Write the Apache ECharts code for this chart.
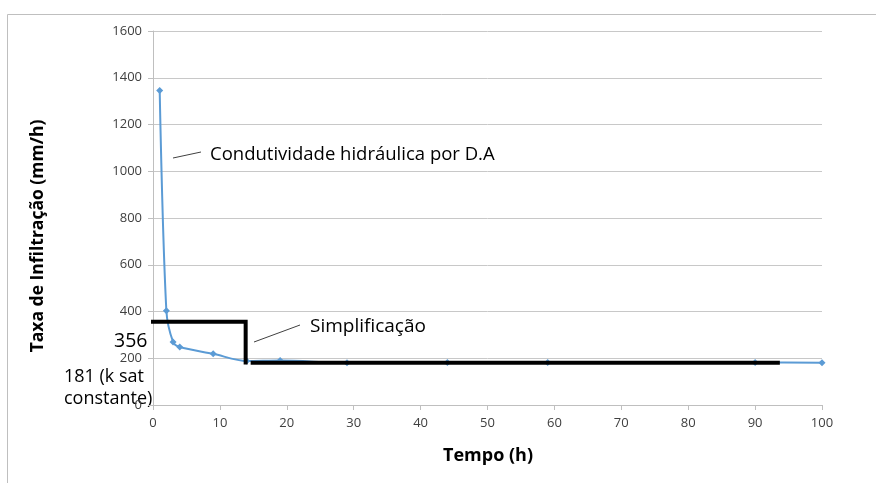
<!DOCTYPE html>
<html>
<head>
<meta charset="utf-8">
<script src="https://cdn.jsdelivr.net/npm/echarts@6/dist/echarts.min.js"></script>
<style>
  html, body { margin: 0; padding: 0; background: #fff; }
  #chart { width: 876px; height: 483px; }
</style>
</head>
<body>
<div id="chart"></div>
<script>
// Infiltration rate measured over time
const tempo = [1, 2, 3, 4, 9, 14, 19, 29, 44, 59, 90, 100];
const taxa = [1345, 403, 270, 248, 219, 188, 190, 181, 182, 182, 182, 181];

// Simplified two-step model (initial rate, then constant k sat)
const taxaInicial = 356;
const kSat = 181;
const degrauX = [-0.3, 13.85];
const kSatX = [14.6, 93.7];

const yTicks = [0, 200, 400, 600, 800, 1000, 1200, 1400, 1600];
const xTicks = [0, 10, 20, 30, 40, 50, 60, 70, 80, 90, 100];

const FONT = '"Open Sans", sans-serif';
const chart = echarts.init(document.getElementById('chart'));

chart.setOption({
  animation: false,
  grid: { left: 153, right: 54, top: 31, bottom: 78 },
  xAxis: {
    type: 'value', min: xTicks[0], max: xTicks[xTicks.length - 1], interval: 10,
    axisLine: { onZero: false, lineStyle: { color: '#BFBFBF', width: 1 } },
    axisTick: { show: true, length: 5, lineStyle: { color: '#BFBFBF' } },
    axisLabel: { fontFamily: FONT, fontSize: 13, color: '#404040', margin: 12,
                 formatter: v => String(v) },
    splitLine: { show: false }
  },
  yAxis: {
    type: 'value', min: yTicks[0], max: yTicks[yTicks.length - 1], interval: 200,
    axisLine: { show: true, lineStyle: { color: '#BFBFBF', width: 1 } },
    axisTick: { show: true, length: 5, lineStyle: { color: '#BFBFBF' } },
    axisLabel: { fontFamily: FONT, fontSize: 13, color: '#404040', margin: 11,
                 formatter: v => String(v) },
    splitLine: { lineStyle: { color: '#C8C8C8', width: 1 } }
  },
  series: [
    {
      type: 'line', smooth: 0.3,
      data: tempo.map((t, i) => [t, taxa[i]]),
      symbol: 'diamond', symbolSize: 7,
      lineStyle: { color: '#5B9BD5', width: 2 },
      itemStyle: { color: '#5B9BD5' },
      z: 3
    },
    {
      type: 'line', clip: false, symbol: 'none',
      data: [[degrauX[0], taxaInicial], [degrauX[1], taxaInicial], [degrauX[1], kSat - 8]],
      lineStyle: { color: '#000', width: 4, cap: 'butt', join: 'miter' },
      z: 4
    },
    {
      type: 'line', clip: false, symbol: 'none',
      data: [[kSatX[0], kSat], [kSatX[1], kSat]],
      lineStyle: { color: '#000', width: 4, cap: 'butt' },
      z: 4
    }
  ],
  graphic: [
    // chart frame
    { type: 'polyline', shape: { points: [[7.5, 483], [7.5, 14.5], [876, 14.5]] },
      style: { stroke: '#BFBFBF', lineWidth: 1, fill: null }, silent: true },
    // axis titles
    { type: 'text', x: 38, y: 236, rotation: Math.PI / 2,
      style: { text: 'Taxa de Infiltração (mm/h)', font: 'bold 17.5px ' + FONT, fill: '#000',
               align: 'center', verticalAlign: 'middle' } },
    { type: 'text', x: 488, y: 456,
      style: { text: 'Tempo (h)', font: 'bold 18px ' + FONT, fill: '#000',
               align: 'center', verticalAlign: 'middle' } },
    // callouts
    { type: 'line', shape: { x1: 173, y1: 158, x2: 201, y2: 152 }, style: { stroke: '#404040', lineWidth: 1 } },
    { type: 'text', x: 210, y: 155,
      style: { text: 'Condutividade hidráulica por D.A', font: '18.5px ' + FONT, fill: '#000',
               verticalAlign: 'middle' } },
    { type: 'line', shape: { x1: 254, y1: 342, x2: 300, y2: 325 }, style: { stroke: '#404040', lineWidth: 1 } },
    { type: 'text', x: 310, y: 327,
      style: { text: 'Simplificação', font: '19px ' + FONT, fill: '#000', verticalAlign: 'middle' } },
    { type: 'text', x: 114, y: 341,
      style: { text: String(taxaInicial), font: '19.5px ' + FONT, fill: '#000', verticalAlign: 'middle' } },
    { type: 'text', x: 64, y: 377,
      style: { text: kSat + ' (k sat', font: '18px ' + FONT, fill: '#000', verticalAlign: 'middle' } },
    { type: 'text', x: 64, y: 399,
      style: { text: 'constante)', font: '18px ' + FONT, fill: '#000', verticalAlign: 'middle' } }
  ]
});
</script>
</body>
</html>
